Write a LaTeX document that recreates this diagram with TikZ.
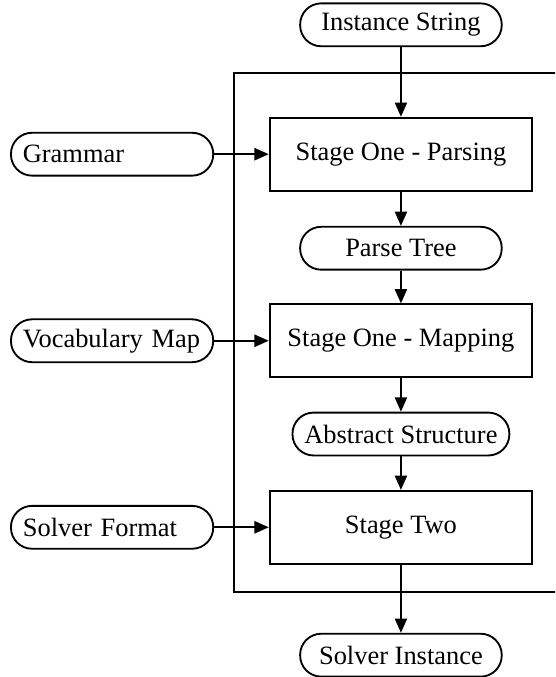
\documentclass[tikz,border=0pt]{standalone}
\usepackage{fontspec}
\setmainfont{Liberation Serif}
\usepackage{tikz}
\usepgflibrary{arrows.meta}

\begin{document}
\begin{tikzpicture}[line width=0.7pt,
		stage/.style={draw, rectangle, minimum width=3.49cm, minimum height=0.97cm},
		term/.style={draw, rectangle, rounded corners=0.28cm, minimum width=2.68cm, minimum height=0.57cm, inner xsep=4.5pt},
		input/.style={term, text width=67.5pt, align=left},
		flow/.style={-{Triangle[width=4.6pt,length=5.4pt]}}]
		\clip (0, 0) rectangle (7.38, 9);
		% main column
		\node [term] (IS) at (5.33, 8.67) {Instance String};
		\node [stage] (SOP) at (5.33, 6.95) {Stage One - Parsing};
		\node [term] (PT) at (5.33, 5.70) {Parse Tree};
		\node [stage] (SOM) at (5.33, 4.47) {Stage One - Mapping};
		\node [term] (AS) at (5.33, 3.23) {Abstract Structure};
		\node [stage] (STW) at (5.33, 1.99) {Stage Two};
		\node [term] (SI) at (5.33, 0.29) {Solver Instance};
		% side inputs
		\node [input] (GR) at (1.49, 6.95) {Grammar};
		\node [input] (VM) at (1.49, 4.47) {Vocabulary Map};
		\node [input] (SF) at (1.49, 1.99) {Solver Format};
		% enclosing frame
		\coordinate (FB) at (3.11, 1.13);
		\coordinate (FT) at (8, 8.03);
		\draw (FB) rectangle (FT);
		
		\draw [flow] (IS) -- (SOP);
		\draw [flow] (SOP) -- (PT);
		\draw [flow] (PT) -- (SOM);
		\draw [flow] (SOM) -- (AS);
		\draw [flow] (AS) -- (STW);
		\draw [flow] (STW) -- (SI);
		\draw [flow] (GR) -- (SOP);
		\draw [flow] (VM) -- (SOM);
		\draw [flow] (SF) -- (STW);
\end{tikzpicture}
\end{document}
